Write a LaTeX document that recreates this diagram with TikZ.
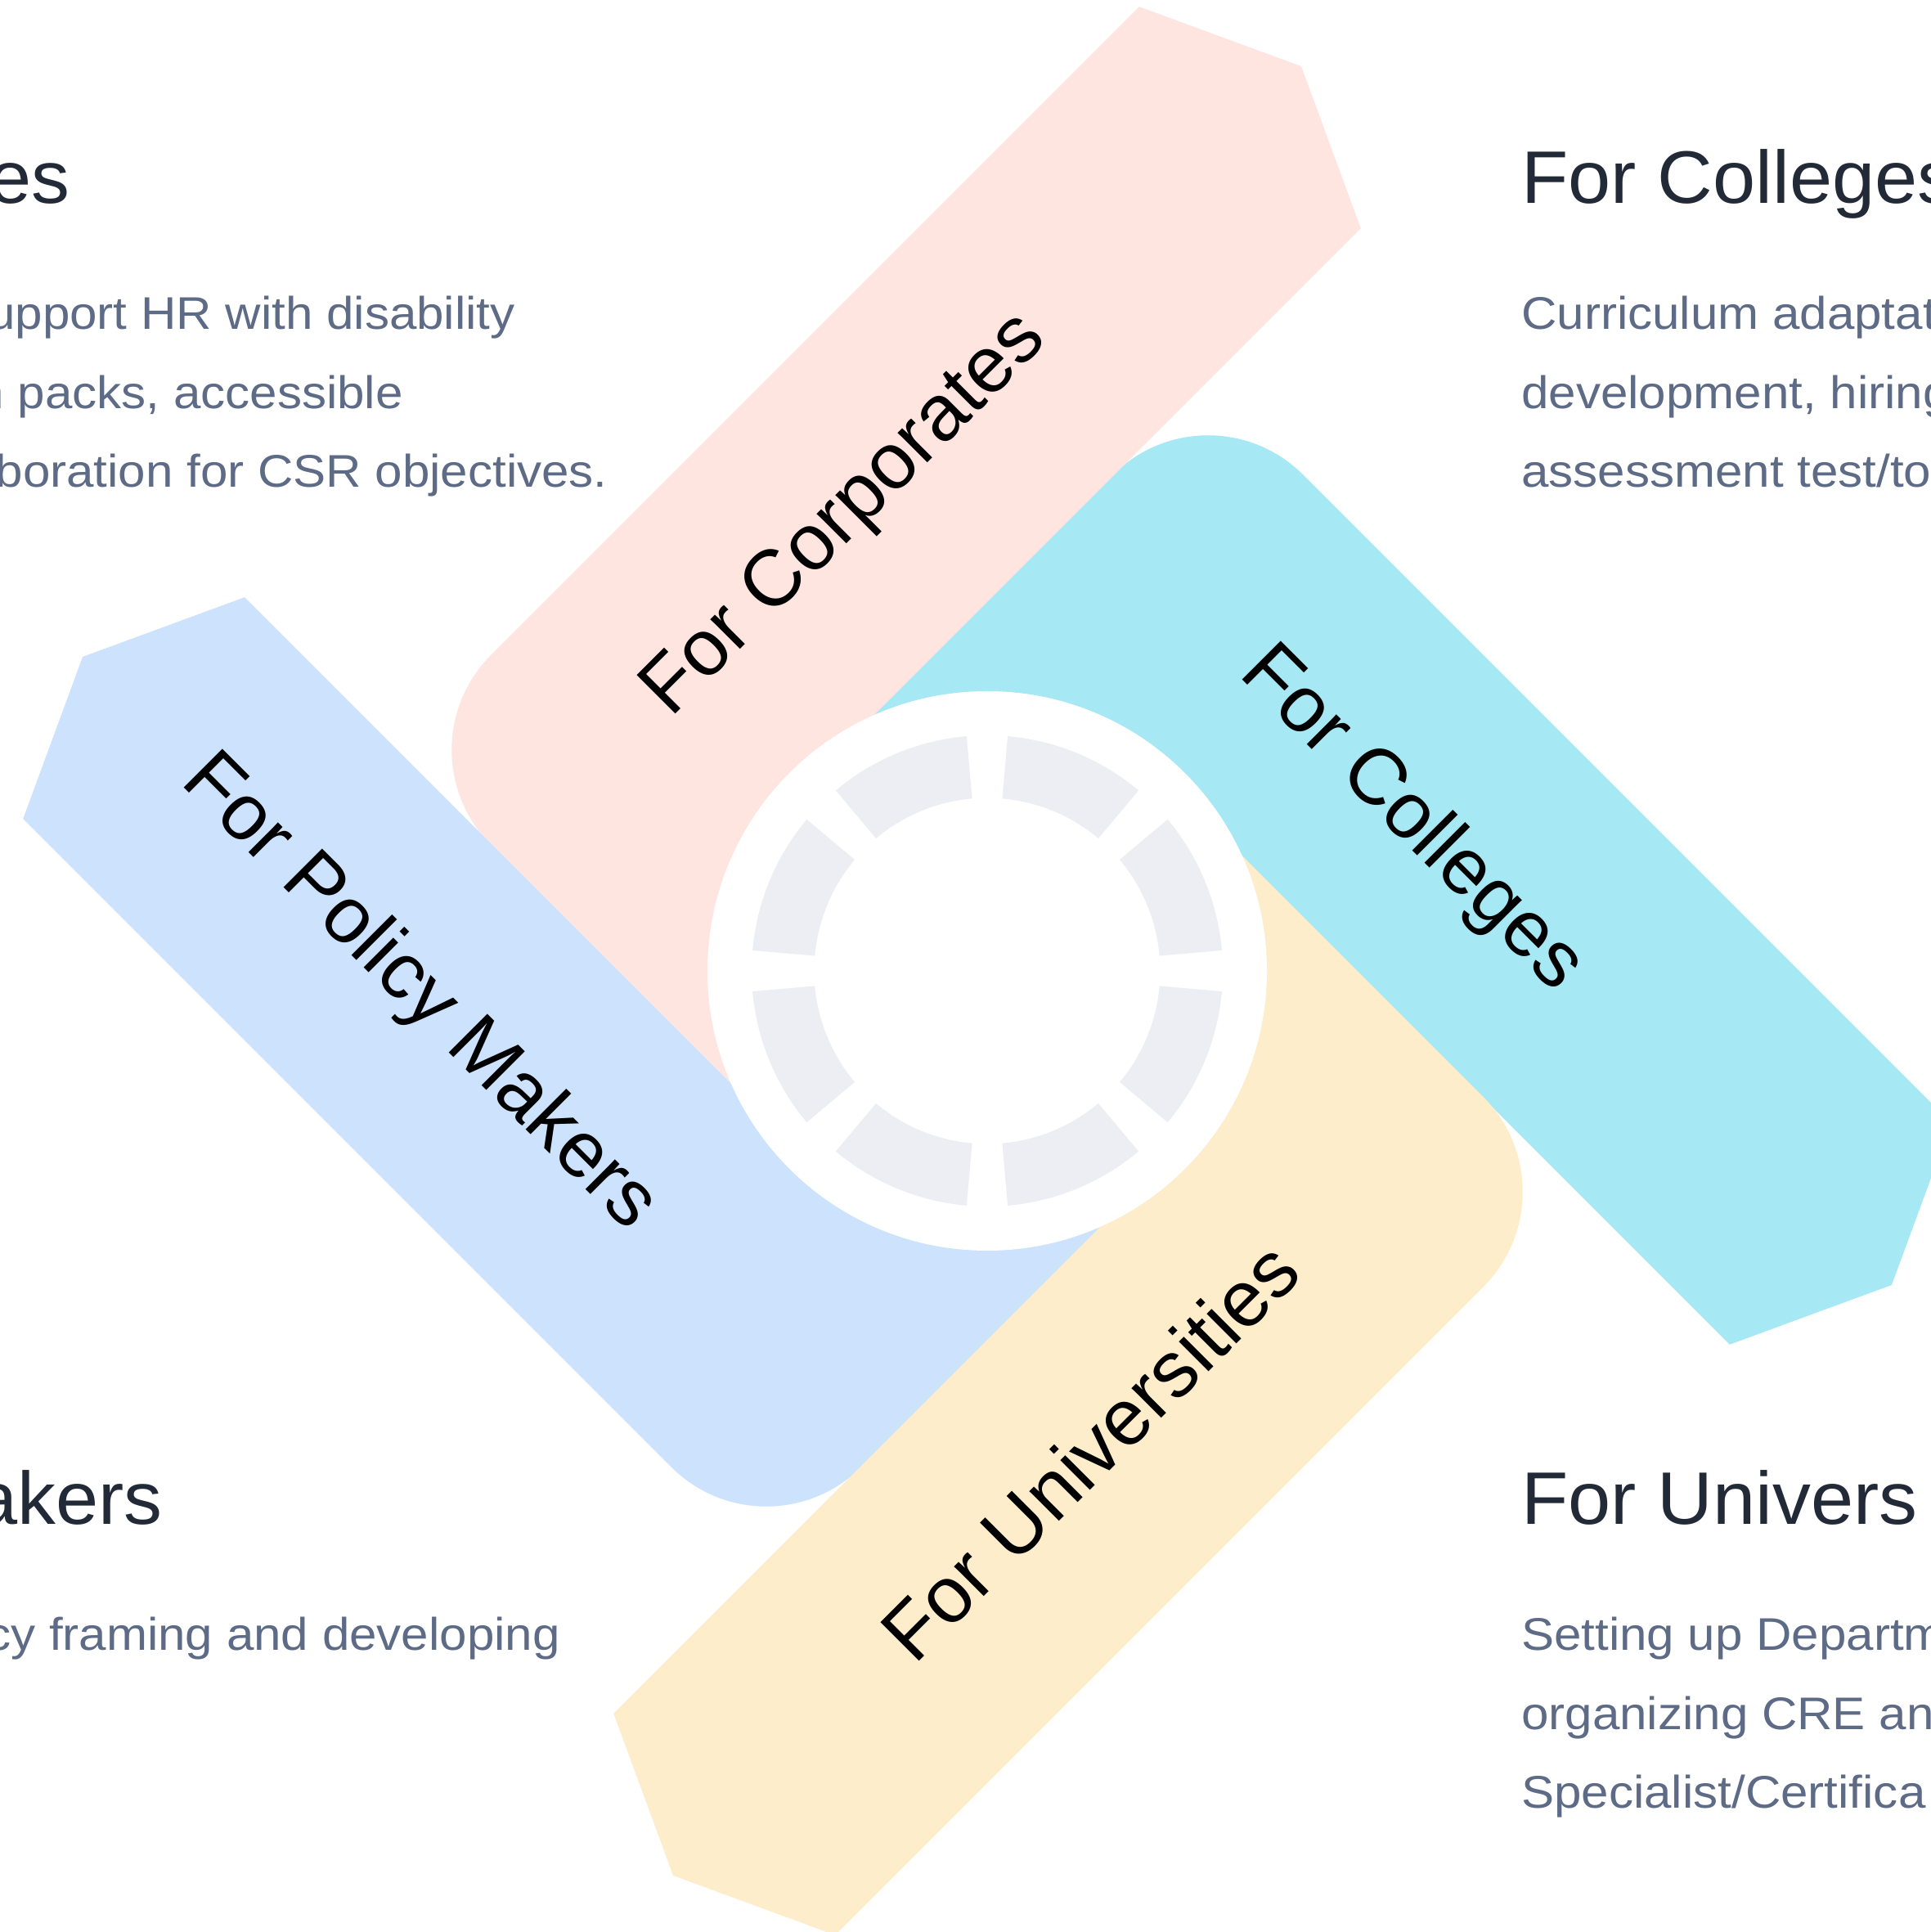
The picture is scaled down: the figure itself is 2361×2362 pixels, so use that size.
\documentclass[tikz,border=0pt]{standalone}
\usepackage{fontspec}
\setmainfont{Liberation Sans}
\newfontfamily\bodyfont[FakeStretch=1.075]{Liberation Sans}
\newfontfamily\headfont[FakeStretch=1.03]{Liberation Sans}
\definecolor{pinkb}{HTML}{FEE5E0}
\definecolor{cyanb}{HTML}{A6E8F3}
\definecolor{blueb}{HTML}{CCE2FD}
\definecolor{yellowb}{HTML}{FDEDCB}
\definecolor{ringc}{HTML}{EDEEF3}
\definecolor{headc}{HTML}{232A37}
\definecolor{bodyc}{HTML}{5D6B86}
% blade in its own frame: #1 rotation, #2 colour, #3 extension (1/0)
\newcommand{\drawblade}[3]{%
  \begin{scope}[shift={(1207,1175)},rotate=#1]
    \fill[#2] (965,702) -- (1053.5,510.5) -- (965,319) -- (0,319) -- (0,0) -- (-320,0)
      -- (-320,538) arc[start angle=180,end angle=90,radius=164] -- cycle;
    \ifnum#3=1 \fill[#2] (-332,0) rectangle (-316,530);\fi
  \end{scope}}
\begin{document}
\begin{tikzpicture}[x=1pt,y=1pt,
  headtxt/.style={text=headc, font=\headfont\fontsize{91}{100}\selectfont, inner sep=0pt},
  bodytxt/.style={text=bodyc, font=\bodyfont\fontsize{55.9}{60}\selectfont, inner sep=0pt},
  labtxt/.style={text=black, font=\fontsize{97}{105}\selectfont, inner sep=0pt, anchor=base}]
\useasboundingbox (0,0) rectangle (2361,2362);
\clip (0,0) rectangle (2361,2362);
\fill[white] (0,0) rectangle (2361,2362);

% blades
\drawblade{-45}{cyanb}{1}
\drawblade{45}{pinkb}{1}
\drawblade{135}{blueb}{1}
\drawblade{-135}{yellowb}{0}

% hub
\fill[white] (1207,1175) circle (342);
\begin{scope}[shift={(1207,1175)}]
  \foreach \a in {0,45,...,315}{
    \fill[ringc] (\a+5:288) arc[start angle=\a+5,end angle=\a+40,radius=288]
      -- (\a+40:211.5) arc[start angle=\a+40,end angle=\a+5,radius=211.5] -- cycle;}
\end{scope}

% blade labels
\begin{scope}[shift={(1207,1175)},rotate=45]
  \node[labtxt,rotate=45] (labcorp) at (271,491) {For Corporates};
\end{scope}
\begin{scope}[shift={(1207,1175)},rotate=-45]
  \node[labtxt,rotate=-45] (labcoll) at (236,472) {For Colleges};
\end{scope}
\begin{scope}[shift={(1207,1175)},rotate=135]
  \node[labtxt,rotate=-45] (labpol) at (472,536) {For Policy Makers};
\end{scope}
\begin{scope}[shift={(1207,1175)},rotate=-135]
  \node[labtxt,rotate=45] (labuni) at (326,538) {For Universities};
\end{scope}

% side texts
\node[headtxt,anchor=base east] (h1) at (86,2113.3) {es};
\node[bodytxt,anchor=base east] (b11) at (630,1959) {upport HR with disability};
\node[bodytxt,anchor=base east] (b12) at (493,1862.5) {n packs, accessible};
\node[bodytxt,anchor=base east] (b13) at (743,1766) {boration for CSR objectives.};

\node[headtxt,anchor=base west] (h2) at (1860,2113.3) {For Colleges};
\node[bodytxt,anchor=base west] (b21) at (1860,1959) {Curriculum adaptat};
\node[bodytxt,anchor=base west] (b22) at (1860,1862.5) {development, hiring};
\node[bodytxt,anchor=base west] (b23) at (1860,1766) {assessment test/to};

\node[headtxt,anchor=base east] (h3) at (199,498) {akers};
\node[bodytxt,anchor=base east] (b31) at (685,344) {cy framing and developing};

\node[headtxt,anchor=base west] (h4) at (1860,498) {For Univers};
\node[bodytxt,anchor=base west] (b41) at (1860,344) {Setting up Departme};
\node[bodytxt,anchor=base west] (b42) at (1860,247.5) {organizing CRE and};
\node[bodytxt,anchor=base west] (b43) at (1860,151) {Specialist/Certifica};
\end{tikzpicture}
\end{document}
